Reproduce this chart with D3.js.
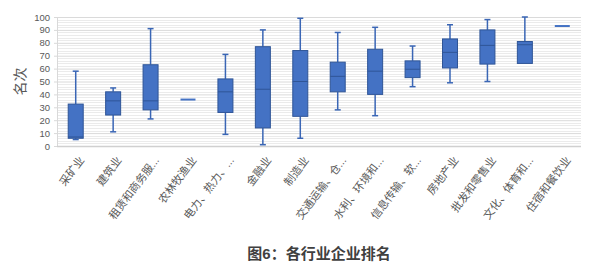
<!DOCTYPE html>
<html>
<head>
<meta charset="utf-8">
<script src="https://cdn.jsdelivr.net/npm/d3@7"></script>
<style>
  html, body { margin: 0; padding: 0; background: #fff; }
  svg { display: block; }
  text { font-family: "Liberation Sans", Arial, "Noto Sans CJK SC", sans-serif; }
</style>
</head>
<body>
<svg id="chart" width="589" height="269"></svg>
<script>
const categories = ["采矿业", "建筑业", "租赁和商务服...", "农林牧渔业", "电力、热力、...", "金融业", "制造业",
  "交通运输、仓...", "水利、环境和...", "信息传输、软...", "房地产业", "批发和零售业", "文化、体育和...", "住宿和餐饮业"];
const mins    = [5, 11, 21, 36,  9,  1,  6, 28, 23.5, 46, 49, 50, 64, 93];
const q1s     = [6, 24, 28, 36, 26, 14, 23, 42, 40,   53, 60.5, 63.5, 64, 93];
const medians = [7, 35, 35, 36, 42, 44, 50, 54, 58,   59.5, 72.6, 78, 78.5, 93];
const q3s     = [32.5, 42, 63, 36, 52, 77, 74, 65, 75, 66, 83, 90, 81, 93];
const maxs    = [58, 45, 91, 36, 71, 90, 99, 88, 92,  77.5, 94, 98, 100, 93];
const yTicks  = [0, 10, 20, 30, 40, 50, 60, 70, 80, 90, 100];
const yTitle = "名次";
const chartTitle = "图6：各行业企业排名";

const data = categories.map((c, i) => ({
  cat: c, min: mins[i], q1: q1s[i], med: medians[i], q3: q3s[i], max: maxs[i]
}));

const svg = d3.select("#chart");
const pLeft = 57, pRight = 581, pTop = 17, pBottom = 146;

const x = d3.scaleBand().domain(categories).range([pLeft, pRight]).padding(0);
const y = d3.scaleLinear().domain([0, 100]).range([pBottom, pTop]);

// minor gridlines
const minor = d3.range(0, 101, 2).filter(v => v % 10 !== 0);
svg.append("g").selectAll("line").data(minor).join("line")
  .attr("x1", pLeft).attr("x2", pRight)
  .attr("y1", d => Math.round(y(d)) + 0.5).attr("y2", d => Math.round(y(d)) + 0.5)
  .attr("stroke", "#ebebeb").attr("stroke-width", 1);

// y axis with major gridlines
const yAxis = d3.axisLeft(y).tickValues(yTicks).tickSize(3).tickPadding(4);
const ga = svg.append("g").attr("transform", `translate(${pLeft},0)`).call(yAxis);
ga.select(".domain").attr("stroke", "#d9d9d9");
ga.selectAll(".tick line").attr("stroke", "#d9d9d9");
ga.selectAll(".tick text").attr("fill", "#595959").style("font-size", "9.5px");
ga.selectAll(".tick").append("line")
  .attr("x1", 0).attr("x2", pRight - pLeft)
  .attr("stroke", d => d === 0 ? "#d0d0d0" : "#dadada")
  .attr("stroke-width", d => d === 0 ? 1.5 : 1);

// y title
svg.append("text")
  .attr("transform", `translate(20,${(pTop + pBottom) / 2}) rotate(-90)`)
  .attr("text-anchor", "middle").attr("dy", "0.35em")
  .attr("fill", "#595959").style("font-size", "14px")
  .text(yTitle);

// boxes
const bw = 15, capW = 6;
const stroke = "#3a66b5";
const g = svg.append("g");
const items = g.selectAll("g.box").data(data).join("g")
  .attr("class", "box")
  .attr("transform", d => `translate(${x(d.cat) + x.bandwidth() / 2},0)`);

items.each(function(d) {
  const s = d3.select(this);
  if (d.min === d.max) {
    s.append("line").attr("x1", -bw / 2).attr("x2", bw / 2)
      .attr("y1", y(d.med)).attr("y2", y(d.med))
      .attr("stroke", "#4472c4").attr("stroke-width", 2);
    return;
  }
  s.append("line").attr("x1", 0).attr("x2", 0).attr("y1", y(d.max)).attr("y2", y(d.q3))
    .attr("stroke", stroke).attr("stroke-width", 1.5);
  s.append("line").attr("x1", 0).attr("x2", 0).attr("y1", y(d.q1)).attr("y2", y(d.min))
    .attr("stroke", stroke).attr("stroke-width", 1.5);
  if (d.max > d.q3) s.append("line").attr("x1", -capW / 2).attr("x2", capW / 2)
    .attr("y1", y(d.max)).attr("y2", y(d.max)).attr("stroke", stroke).attr("stroke-width", 1.5);
  if (d.min < d.q1) s.append("line").attr("x1", -capW / 2).attr("x2", capW / 2)
    .attr("y1", y(d.min)).attr("y2", y(d.min)).attr("stroke", stroke).attr("stroke-width", 1.5);
  s.append("rect").attr("x", -bw / 2).attr("width", bw)
    .attr("y", y(d.q3)).attr("height", y(d.q1) - y(d.q3))
    .attr("fill", "#4472c4").attr("stroke", "#2f5597").attr("stroke-width", 1);
  s.append("line").attr("x1", -bw / 2).attr("x2", bw / 2)
    .attr("y1", y(d.med)).attr("y2", y(d.med))
    .attr("stroke", "#2f5597").attr("stroke-width", 1);
});

// x labels
svg.append("g").selectAll("text").data(categories).join("text")
  .attr("transform", d => `translate(${x(d) + x.bandwidth() / 2 + 6},${pBottom + 12}) rotate(-53)`)
  .attr("text-anchor", "end").attr("dy", "0.35em")
  .attr("fill", "#595959").style("font-size", "11px")
  .text(d => d);

// chart title
svg.append("text")
  .attr("x", 319).attr("y", 254)
  .attr("text-anchor", "middle").attr("dy", "0.35em")
  .attr("fill", "#404040").style("font-size", "15px").style("font-weight", "bold")
  .text(chartTitle);
</script>
</body>
</html>
